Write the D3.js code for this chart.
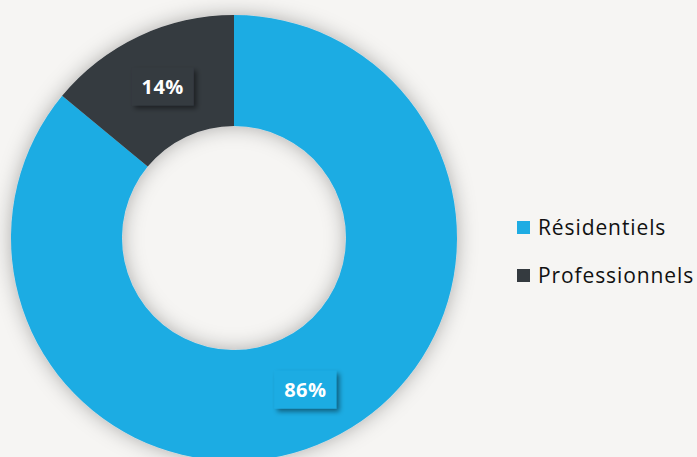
<!DOCTYPE html>
<html>
<head>
<meta charset="utf-8">
<script src="https://cdn.jsdelivr.net/npm/d3@7"></script>
<style>
  html, body { margin: 0; padding: 0; background: #f6f5f3; }
  svg { display: block; }
</style>
</head>
<body>
<script>
const categories = ['Résidentiels', 'Professionnels'];
const values = [86, 14];
const labels = ['86%', '14%'];
const colors = ['#1eace3', '#343a3f'];

const width = 697;
const height = 457;
const cx = 234, cy = 238;
const outerR = 223, innerR = 112;

const svg = d3.select('body').append('svg')
    .attr('width', width)
    .attr('height', height);

const defs = svg.append('defs');
const ringShadow = defs.append('filter').attr('id', 'ringShadow')
    .attr('x', '-20%').attr('y', '-20%').attr('width', '140%').attr('height', '140%');
ringShadow.append('feDropShadow')
    .attr('dx', 0).attr('dy', 0).attr('stdDeviation', 10)
    .attr('flood-color', '#000').attr('flood-opacity', 0.3);

const boxShadow = defs.append('filter').attr('id', 'boxShadow')
    .attr('x', '-30%').attr('y', '-30%').attr('width', '170%').attr('height', '170%');
boxShadow.append('feDropShadow')
    .attr('dx', 3).attr('dy', 3).attr('stdDeviation', 2.5)
    .attr('flood-color', '#000').attr('flood-opacity', 0.45);

const pie = d3.pie().sort(null).value(function(d) { return d; });
const arc = d3.arc().innerRadius(innerR).outerRadius(outerR);

const g = svg.append('g')
    .attr('transform', 'translate(' + cx + ',' + cy + ')');

const arcs = pie(values);

g.append('g')
    .attr('filter', 'url(#ringShadow)')
    .selectAll('path')
    .data(arcs)
    .enter().append('path')
    .attr('d', arc)
    .attr('fill', function(d, i) { return colors[i]; });

// percentage labels in boxes
const lab = g.selectAll('.lab')
    .data(arcs)
    .enter().append('g')
    .attr('class', 'lab')
    .attr('transform', function(d) {
        const c = arc.centroid(d);
        return 'translate(' + c[0] + ',' + c[1] + ')';
    });

lab.append('rect')
    .attr('x', -31)
    .attr('y', -19)
    .attr('width', 62)
    .attr('height', 38)
    .attr('fill', function(d, i) { return colors[i]; })
    .attr('filter', 'url(#boxShadow)');

lab.append('text')
    .attr('text-anchor', 'middle')
    .attr('dy', '0.36em')
    .attr('fill', '#fff')
    .style('font-family', '"Open Sans", sans-serif')
    .style('font-weight', 'bold')
    .style('font-size', '20px')
    .style('letter-spacing', '0.5px')
    .text(function(d, i) { return labels[i]; });

// legend
const legend = svg.append('g')
    .attr('transform', 'translate(517,221)');

const item = legend.selectAll('.item')
    .data(categories)
    .enter().append('g')
    .attr('class', 'item')
    .attr('transform', function(d, i) { return 'translate(0,' + (i * 48) + ')'; });

item.append('rect')
    .attr('width', 13)
    .attr('height', 13)
    .attr('fill', function(d, i) { return colors[i]; });

item.append('text')
    .attr('x', 21)
    .attr('y', 6.5)
    .attr('dy', '0.35em')
    .attr('fill', '#111')
    .style('font-family', '"Open Sans", sans-serif')
    .style('font-size', '21px')
    .style('letter-spacing', '0.9px')
    .text(function(d) { return d; });
</script>
</body>
</html>
